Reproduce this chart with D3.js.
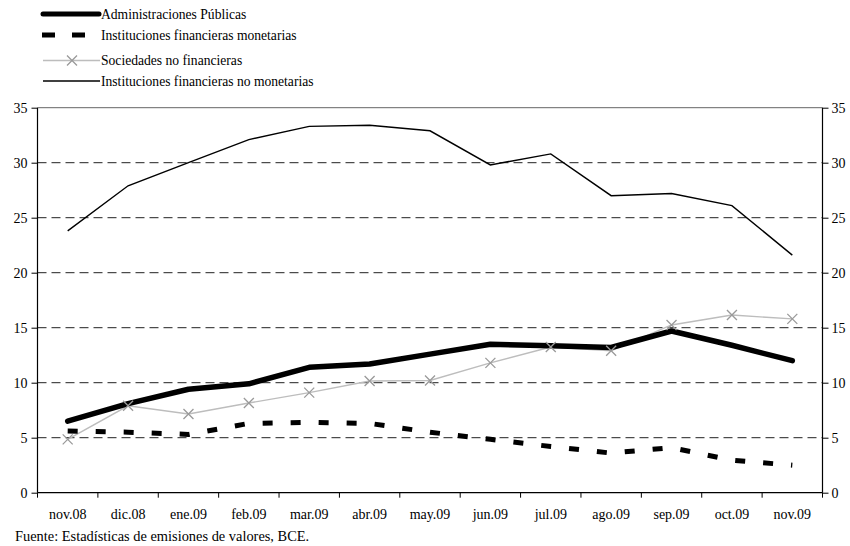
<!DOCTYPE html>
<html><head><meta charset="utf-8">
<script src="https://cdn.jsdelivr.net/npm/d3@7"></script>
<style>body{margin:0;background:#fff}svg{display:block}text{font-family:"Liberation Serif","Times New Roman",serif;fill:#000}</style>
</head><body><svg id="c" width="850" height="546"></svg>
<script>
const categories = ["nov.08","dic.08","ene.09","feb.09","mar.09","abr.09","may.09","jun.09","jul.09","ago.09","sep.09","oct.09","nov.09"];
const adminPublicas = [6.5,8.1,9.4,9.9,11.4,11.7,12.6,13.5,13.35,13.2,14.7,13.4,12.0];
const ifMonetarias = [5.6,5.5,5.3,6.3,6.4,6.3,5.5,4.85,4.2,3.6,4.1,2.95,2.5];
const sociedadesNoFin = [4.85,7.9,7.15,8.15,9.1,10.15,10.2,11.8,13.25,12.9,15.25,16.15,15.8];
const ifNoMonetarias = [23.8,27.9,30.0,32.1,33.3,33.4,32.9,29.8,30.8,27.0,27.2,26.1,21.6];
const yTicks = [0,5,10,15,20,25,30,35];
const legendLabels = ["Administraciones Públicas","Instituciones financieras monetarias","Sociedades no financieras","Instituciones financieras no monetarias"];
const sourceText = "Fuente: Estadísticas de emisiones de valores, BCE.";

const svg = d3.select("#c");
const L = 37.5, R = 822.5, T = 107.7, B = 492.7;
const x = d3.scaleBand().domain(categories).range([L, R]);
const y = d3.scaleLinear().domain([0, 35]).range([B, T]);
const cx = c => x(c) + x.bandwidth()/2;

// gridlines
svg.append("g").selectAll("line").data(yTicks.filter(t => t > 0 && t < 35)).join("line")
  .attr("x1", L).attr("x2", R).attr("y1", d => y(d)).attr("y2", d => y(d))
  .attr("stroke", "#222").attr("stroke-width", 1).attr("stroke-dasharray", "9,5");
svg.append("line").attr("x1", L).attr("x2", R).attr("y1", y(35)).attr("y2", y(35))
  .attr("stroke", "#666").attr("stroke-width", 1);

// axes
const yl = svg.append("g").attr("transform", `translate(${L},0)`)
  .call(d3.axisLeft(y).tickValues(yTicks).tickSize(6).tickPadding(4).tickFormat(d3.format("d")));
const yr = svg.append("g").attr("transform", `translate(${R},0)`)
  .call(d3.axisRight(y).tickValues(yTicks).tickSize(6).tickPadding(3).tickFormat(d3.format("d")));
const xa = svg.append("g").attr("transform", `translate(0,${B})`)
  .call(d3.axisBottom(x).tickSize(0).tickPadding(16));
// boundary ticks on x axis
const bounds = categories.map(c => x(c)).concat([R]);
svg.append("g").selectAll("line").data(bounds).join("line")
  .attr("x1", d => d).attr("x2", d => d).attr("y1", B).attr("y2", B + 5)
  .attr("stroke", "#000").attr("stroke-width", 1);
[yl, yr, xa].forEach(g => {
  g.select(".domain").attr("stroke", "#000").attr("stroke-width", 1.2);
  g.selectAll(".tick line").attr("stroke", "#000");
  g.selectAll("text").attr("font-family", "Liberation Serif, serif").attr("font-size", 14).attr("fill", "#000");
});
yl.select(".domain").attr("d", `M-0,${T}V${B}`);
yr.select(".domain").attr("d", `M0,${T}V${B}`);
xa.select(".domain").attr("d", `M${L},0H${R}`);

const line = d3.line().x((d, i) => cx(categories[i])).y(d => y(d));

// series
svg.append("path").datum(ifNoMonetarias).attr("d", line).attr("fill", "none")
  .attr("stroke", "#000").attr("stroke-width", 1.4);
svg.append("path").datum(sociedadesNoFin).attr("d", line).attr("fill", "none")
  .attr("stroke", "#bdbdbd").attr("stroke-width", 1.4);
svg.append("path").datum(ifMonetarias).attr("d", line).attr("fill", "none")
  .attr("stroke", "#000").attr("stroke-width", 5).attr("stroke-dasharray", "10,18");
svg.append("path").datum(adminPublicas).attr("d", line).attr("fill", "none")
  .attr("stroke", "#000").attr("stroke-width", 5.5).attr("stroke-linejoin", "round").attr("stroke-linecap", "round");
const cross = (g, px, py) => {
  g.append("path").attr("d", `M${px-5},${py-5}L${px+5},${py+5}M${px-5},${py+5}L${px+5},${py-5}`)
    .attr("stroke", "#9a9a9a").attr("stroke-width", 1.3).attr("fill", "none");
};
const mk = svg.append("g");
sociedadesNoFin.forEach((v, i) => cross(mk, cx(categories[i]), y(v)));

// legend
const lg = svg.append("g");
const ly = [14, 35, 60.5, 81];
lg.append("line").attr("x1", 43).attr("x2", 99).attr("y1", ly[0]).attr("y2", ly[0])
  .attr("stroke", "#000").attr("stroke-width", 5).attr("stroke-linecap", "round");
lg.append("line").attr("x1", 42).attr("x2", 100).attr("y1", ly[1]).attr("y2", ly[1])
  .attr("stroke", "#000").attr("stroke-width", 5).attr("stroke-dasharray", "13,17");
lg.append("line").attr("x1", 43).attr("x2", 100).attr("y1", ly[2]).attr("y2", ly[2])
  .attr("stroke", "#bdbdbd").attr("stroke-width", 1.4);
cross(lg, 72, ly[2]);
lg.append("line").attr("x1", 43).attr("x2", 100).attr("y1", ly[3]).attr("y2", ly[3])
  .attr("stroke", "#000").attr("stroke-width", 1.4);
lg.selectAll("text").data(legendLabels).join("text")
  .attr("x", 101).attr("y", (d, i) => ly[i] + 4.5).attr("font-size", 13.6).text(d => d);

svg.append("text").attr("x", 15).attr("y", 541).attr("font-size", 14.4).text(sourceText);
</script></body></html>
